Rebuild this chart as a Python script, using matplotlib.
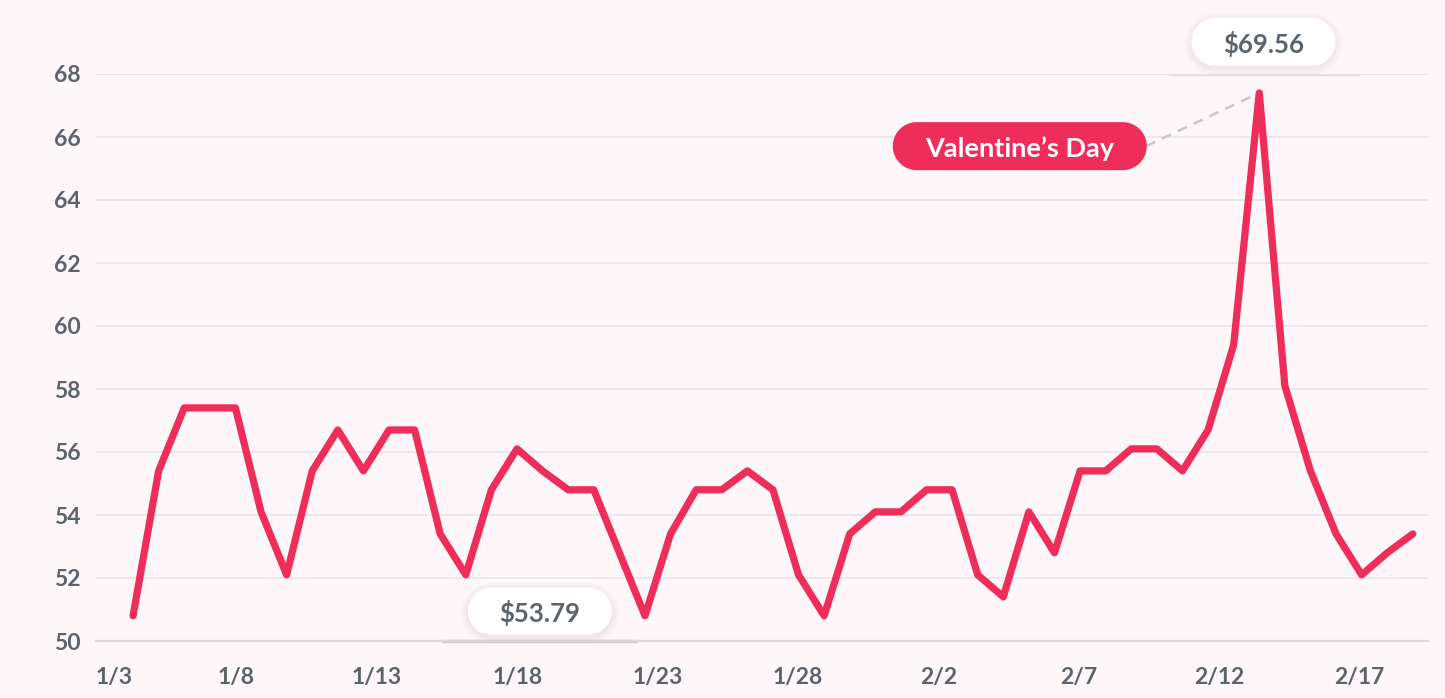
"""Daily average price, January to February."""

import numpy as np
import matplotlib
matplotlib.use("Agg")
import matplotlib.pyplot as plt
from matplotlib.patches import Polygon
from matplotlib.transforms import ScaledTranslation

PRICES = [
    50.8, 55.4, 57.4, 57.4, 57.4, 54.1, 52.1, 55.4, 56.7, 55.4,
    56.7, 56.7, 53.4, 52.1, 54.8, 56.1, 55.4, 54.8, 54.8, 52.8,
    50.8, 53.4, 54.8, 54.8, 55.4, 54.8, 52.1, 50.8, 53.4, 54.1,
    54.1, 54.8, 54.8, 52.1, 51.4, 54.1, 52.8, 55.4, 55.4, 56.1,
    56.1, 55.4, 56.7, 59.4, 67.4, 58.1, 55.4, 53.4, 52.1, 52.8,
    53.4,
]
# days after 1/3 of first and last sample
FIRST_DAY = 1.32
LAST_DAY = 46.9
TICK_DAYS = [0, 5, 10, 15, 20, 25, 30, 35, 40, 45]
TICK_LABELS = ["1/3", "1/8", "1/13", "1/18", "1/23", "1/28",
               "2/2", "2/7", "2/12", "2/17"]
Y_TICKS = [50, 52, 54, 56, 58, 60, 62, 64, 66, 68]
PEAK_LABEL = "$69.56"
LOW_LABEL = "$53.79"
EVENT_LABEL = "Valentine\u2019s Day"

BG = "#fdf7f9"
RED = "#ee2d5a"
GRAY = "#5b636d"
FONT = ["Lato", "DejaVu Sans"]


def pill_shape(w, h, dy=0.0):
    """Outline of a pill w x h inches, ends fully round."""
    r = h / 2.
    t1 = np.linspace(-np.pi / 2, np.pi / 2, 30)
    t2 = np.linspace(np.pi / 2, 3 * np.pi / 2, 30)
    right = np.column_stack([w / 2 - r + r * np.cos(t1), r * np.sin(t1)])
    left = np.column_stack([-w / 2 + r + r * np.cos(t2), r * np.sin(t2)])
    pts = np.vstack([right, left])
    pts[:, 1] += dy
    return pts


def pill(fig, ax, x, y, w, h, text, face, color, size, shadow=True):
    """Rounded label box, size in pixels, centred on data point."""
    w, h = w / 100., h / 100.
    trans = fig.dpi_scale_trans + ScaledTranslation(x, y, ax.transData)
    if shadow:
        for grow, alpha in ((0.07, 0.018), (0.045, 0.025), (0.02, 0.035)):
            ax.add_patch(Polygon(
                pill_shape(w + 2 * grow, h + 2 * grow, -0.02), closed=True,
                fc="#6a2a3a", ec="none", alpha=alpha, transform=trans,
                clip_on=False, zorder=5))
    ax.add_patch(Polygon(
        pill_shape(w, h), closed=True, fc=face, ec="none",
        transform=trans, clip_on=False, zorder=6))
    ax.text(x, y, text, ha="center", va="center_baseline", color=color,
            fontsize=size, fontweight="bold", family=FONT, zorder=7,
            clip_on=False)


def main():
    """Go Main Go."""
    fig = plt.figure(figsize=(14.45, 6.98), dpi=100, facecolor=BG)
    ax = fig.add_axes([96 / 1445., 57 / 698., 1332 / 1445., 567 / 698.])
    ax.set_facecolor(BG)

    days = np.linspace(FIRST_DAY, LAST_DAY, len(PRICES))
    ax.plot(days, PRICES, color=RED, lw=5.2, solid_joinstyle="round",
            solid_capstyle="round", zorder=4, clip_on=False)

    ax.set_xlim(0, 47.44)
    ax.set_ylim(50, 68)
    ax.set_yticks(Y_TICKS)
    ax.set_xticks(TICK_DAYS)
    ax.set_xticklabels(TICK_LABELS)
    ax.grid(True, axis="y", color="#ebe6e8", lw=1.3)
    ax.set_axisbelow(True)
    for side in ("top", "right", "left"):
        ax.spines[side].set_visible(False)
    ax.spines["bottom"].set_color("#dcd8da")
    ax.spines["bottom"].set_linewidth(1.6)
    ax.tick_params(axis="both", length=0, colors=GRAY, labelsize=16.5)
    ax.tick_params(axis="x", pad=19)
    ax.tick_params(axis="y", pad=11)
    for lab in ax.get_xticklabels() + ax.get_yticklabels():
        lab.set_family(FONT)
        lab.set_fontweight("bold")
    ax.get_xticklabels()[0].set_horizontalalignment("left")

    # peak callouts
    peak = int(np.argmax(PRICES))
    ax.plot([32.9 + 4.5, days[peak]], [65.71, PRICES[peak]], ls=(0, (4, 3)),
            color="#c8c8c8", lw=1.8, zorder=3)
    pill(fig, ax, 32.9, 65.71, 254, 48, EVENT_LABEL, RED, "white", 19.5,
         shadow=False)
    ax.plot([38.25, 44.94], [68, 68], color="#e2dde0", lw=2.5, zorder=2)
    pill(fig, ax, days[peak] + 0.15, 69.02, 144, 48, PEAK_LABEL, "white",
         GRAY, 18.5)
    ax.plot([12.38, 19.2], [50, 50], color="#cfcbcd", lw=2.5, zorder=2,
            clip_on=False)
    pill(fig, ax, 15.81, 50.95, 144, 47, LOW_LABEL, "white", GRAY, 18.5)

    fig.savefig("out.png", dpi=100, facecolor=BG)


if __name__ == "__main__":
    main()
